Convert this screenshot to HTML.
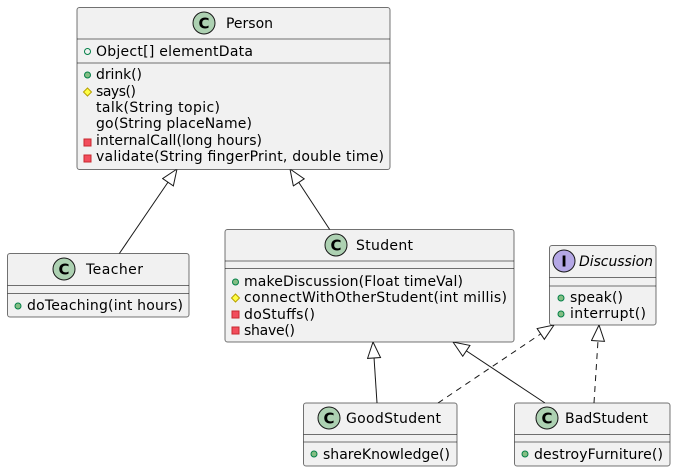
<!DOCTYPE html>
<html><head><meta charset="utf-8"><style>
html,body{margin:0;padding:0;background:#fff;}
svg{display:block;}
text{font-family:"DejaVu Sans","Liberation Sans",sans-serif;font-size:14px;fill:#000;}
.box{fill:#f1f1f1;stroke:#181818;stroke-opacity:0.6;stroke-width:1;}
.sep{stroke:#181818;stroke-opacity:0.6;stroke-width:1;}
.edge{stroke:#181818;stroke-width:1;fill:none;}
.dash{stroke-dasharray:6,5;}
.pub{fill:#84be84;stroke:#038048;stroke-width:1;}
.pubo{fill:none;stroke:#038048;stroke-width:1;}
.prot{fill:#ffff44;stroke:#b8a100;stroke-width:1;}
.priv{fill:#f24d5c;stroke:#c82930;stroke-width:1;}
.circ{fill:#add1b2;stroke:#181818;stroke-width:1;}
.icirc{fill:#b4a7e5;stroke:#181818;stroke-width:1;}
.ct{font-weight:bold;font-size:15px;}
</style></head><body>
<svg width="676" height="472" viewBox="0 0 676 472" xmlns="http://www.w3.org/2000/svg">
<defs>
<marker id="tri" markerWidth="20" markerHeight="16" refX="17" refY="7" orient="auto" markerUnits="userSpaceOnUse">
<path d="M17,7 L1,0.5 L1,13.5 Z" fill="#fff" stroke="#181818" stroke-width="1"/>
</marker>
</defs>

<line class="edge" x1="119" y1="254" x2="177" y2="169" marker-end="url(#tri)"/>
<line class="edge" x1="330" y1="230" x2="290" y2="169" marker-end="url(#tri)"/>
<line class="edge" x1="377" y1="403" x2="373" y2="342" marker-end="url(#tri)"/>
<line class="edge" x1="545" y1="403" x2="453" y2="342" marker-end="url(#tri)"/>
<line class="edge dash" x1="438" y1="403" x2="554" y2="325" marker-end="url(#tri)"/>
<line class="edge dash" x1="594" y1="403" x2="599" y2="325" marker-end="url(#tri)"/>

<rect class="box" x="77" y="7.5" width="313" height="162" rx="2.5"/>
<line class="sep" x1="77" y1="39" x2="390" y2="39"/>
<line class="sep" x1="77" y1="63" x2="390" y2="63"/>
<circle class="circ" cx="204" cy="23" r="11"/>
<text class="ct" x="204" y="28.5" text-anchor="middle">C</text>
<text x="226" y="28" textLength="47">Person</text>
<circle class="pubo" cx="87.5" cy="51.5" r="3"/>
<text x="96" y="56" textLength="157">Object[] elementData</text>
<circle class="pub" cx="87.5" cy="75" r="3"/>
<text x="96" y="79" textLength="46">drink()</text>
<path class="prot" d="M87.5,88 L91.5,92 L87.5,96 L83.5,92 Z"/>
<text x="96" y="96" textLength="40">says()</text>
<text x="96" y="112" textLength="124">talk(String topic)</text>
<text x="96" y="128" textLength="156">go(String placeName)</text>
<rect class="priv" x="84" y="139" width="7" height="7"/>
<text x="96" y="145" textLength="166">internalCall(long hours)</text>
<rect class="priv" x="84" y="155" width="7" height="7"/>
<text x="96" y="161" textLength="288">validate(String fingerPrint, double time)</text>

<rect class="box" x="7.5" y="253.5" width="181.5" height="63.5" rx="2.5"/>
<line class="sep" x1="7.5" y1="285.5" x2="189" y2="285.5"/>
<line class="sep" x1="7.5" y1="293.5" x2="189" y2="293.5"/>
<circle class="circ" cx="64" cy="269" r="11"/>
<text class="ct" x="64" y="274.5" text-anchor="middle">C</text>
<text x="86" y="274" textLength="57">Teacher</text>
<circle class="pub" cx="18" cy="306" r="3"/>
<text x="27" y="310" textLength="156">doTeaching(int hours)</text>

<rect class="box" x="225" y="229.5" width="289" height="112.5" rx="2.5"/>
<line class="sep" x1="225" y1="261" x2="514" y2="261"/>
<line class="sep" x1="225" y1="268.5" x2="514" y2="268.5"/>
<circle class="circ" cx="336" cy="245" r="11"/>
<text class="ct" x="336" y="250.5" text-anchor="middle">C</text>
<text x="356" y="250" textLength="57">Student</text>
<circle class="pub" cx="235.5" cy="282" r="3"/>
<text x="244" y="286" textLength="219">makeDiscussion(Float timeVal)</text>
<path class="prot" d="M235.5,294 L239.5,298 L235.5,302 L231.5,298 Z"/>
<text x="244" y="302" textLength="263">connectWithOtherStudent(int millis)</text>
<rect class="priv" x="232" y="311" width="7" height="7"/>
<text x="244" y="319" textLength="71">doStuffs()</text>
<rect class="priv" x="232" y="327" width="7" height="7"/>
<text x="244" y="335" textLength="51">shave()</text>

<rect class="box" x="549.5" y="245.5" width="106.5" height="79.5" rx="2.5"/>
<line class="sep" x1="549.5" y1="277.5" x2="656" y2="277.5"/>
<line class="sep" x1="549.5" y1="286" x2="656" y2="286"/>
<circle class="icirc" cx="564" cy="261" r="11"/>
<text class="ct" x="564" y="266.5" text-anchor="middle">I</text>
<text x="579" y="266" font-style="italic" textLength="74">Discussion</text>
<circle class="pub" cx="561" cy="298" r="3"/>
<text x="570" y="302" textLength="53">speak()</text>
<circle class="pub" cx="561" cy="314" r="3"/>
<text x="570" y="318" textLength="76">interrupt()</text>

<rect class="box" x="303.5" y="403" width="153.5" height="63" rx="2.5"/>
<line class="sep" x1="303.5" y1="434.5" x2="457" y2="434.5"/>
<line class="sep" x1="303.5" y1="442" x2="457" y2="442"/>
<circle class="circ" cx="329" cy="418" r="11"/>
<text class="ct" x="329" y="423.5" text-anchor="middle">C</text>
<text x="346" y="423" textLength="95">GoodStudent</text>
<circle class="pub" cx="314" cy="454" r="3"/>
<text x="323" y="459" textLength="127">shareKnowledge()</text>

<rect class="box" x="514.5" y="403" width="155.5" height="63" rx="2.5"/>
<line class="sep" x1="514.5" y1="434.5" x2="670" y2="434.5"/>
<line class="sep" x1="514.5" y1="442" x2="670" y2="442"/>
<circle class="circ" cx="547" cy="418" r="11"/>
<text class="ct" x="547" y="423.5" text-anchor="middle">C</text>
<text x="565" y="423" textLength="83">BadStudent</text>
<circle class="pub" cx="525" cy="454" r="3"/>
<text x="534" y="459" textLength="129">destroyFurniture()</text>
</svg>
</body></html>
